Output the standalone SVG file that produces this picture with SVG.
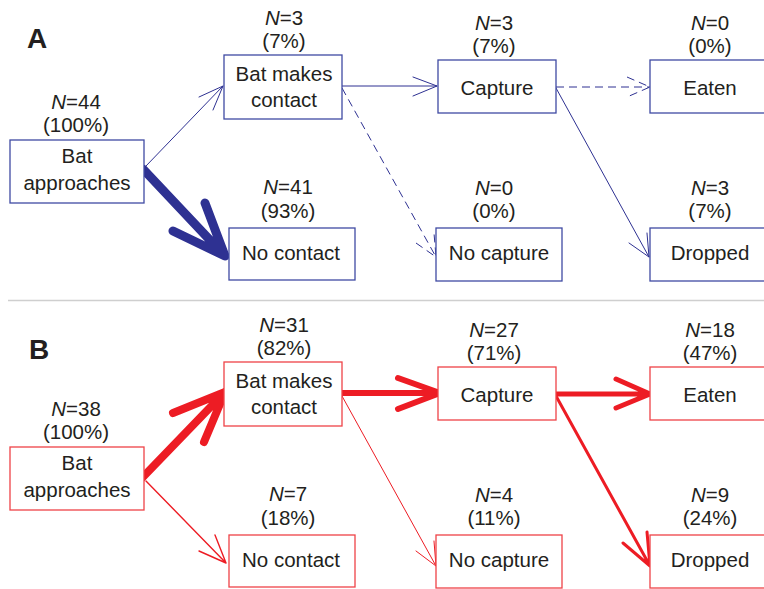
<svg xmlns="http://www.w3.org/2000/svg" width="764" height="589" viewBox="0 0 764 589">
<style>
text{font-family:"Liberation Sans",Arial,sans-serif;font-size:20.5px;fill:#231f20;text-anchor:middle}
.lbl{font-weight:bold;font-size:28px;text-anchor:start}
.n{font-style:italic}
.bb{fill:#fff;stroke:#3f4aa3;stroke-width:1.3}
.rb{fill:#fff;stroke:#ef4247;stroke-width:1.3}
.ba{fill:none;stroke:#2e3192;stroke-linecap:round;stroke-linejoin:round}
.ra{fill:none;stroke:#ed1c24;stroke-linecap:round;stroke-linejoin:round}
.d{stroke-dasharray:8 5;stroke-linecap:butt}
</style>
<rect width="764" height="589" fill="#fff"/>
<line x1="8" y1="300.5" x2="764" y2="300.5" stroke="#cfcfcf" stroke-width="1.5"/>

<text class="lbl" x="27" y="48">A</text>
<text class="lbl" x="29" y="359">B</text>

<g id="connectors-A">
<path class="ba" stroke-width="1" d="M146,166 L223,86 M199,97 L223,86 L213,110"/>
<path class="ba" stroke-width="9" d="M143,169 L225,256 M173,231 L225,256 L205,203"/>
<path class="ba" stroke-width="1" d="M342,86 L437,86 M413,77 L437,86 L413,96"/>
<path class="ba d" stroke-width="1" d="M342,88 L436,257 M416,243 L436,257 L434,233"/>
<path class="ba d" stroke-width="1" d="M556,87 L650,87 M627,77 L650,87 L627,97"/>
<path class="ba" stroke-width="1" d="M556,88 L649,257 M629,243 L649,257 L647,233"/>
</g>

<g id="connectors-B">
<path class="ra" stroke-width="8" d="M142,478 L225,392 M173,413 L225,392 L204,442"/>
<path class="ra" stroke-width="1.4" d="M146,481 L226,563 M199,551 L226,563 L215,535"/>
<path class="ra" stroke-width="6" d="M342,393 L440,393 M398,378 L440,393 L398,409"/>
<path class="ra" stroke-width="1" d="M342,396 L436,566 M416,551 L436,566 L434,541"/>
<path class="ra" stroke-width="5" d="M556,394 L650,394 M616,379 L650,394 L616,408"/>
<path class="ra" stroke-width="3" d="M556,396 L650,566 M623,543 L650,566 L647,532"/>
</g>

<g id="A-approaches">
<rect class="bb" x="10" y="140" width="134" height="63"/>
<text x="76" y="109"><tspan class="n">N</tspan>=44</text>
<text x="76" y="132">(100%)</text>
<text x="77" y="163">Bat</text>
<text x="77" y="190">approaches</text>
</g>
<g id="A-contact">
<rect class="bb" x="224" y="55" width="118" height="64"/>
<text x="284" y="25"><tspan class="n">N</tspan>=3</text>
<text x="284" y="48">(7%)</text>
<text x="284" y="81">Bat makes</text>
<text x="284" y="107">contact</text>
</g>
<g id="A-nocontact">
<rect class="bb" x="229" y="228" width="126" height="52"/>
<text x="288" y="194"><tspan class="n">N</tspan>=41</text>
<text x="288" y="218">(93%)</text>
<text x="291" y="260">No contact</text>
</g>
<g id="A-capture">
<rect class="bb" x="438" y="60" width="118" height="53"/>
<text x="494" y="30"><tspan class="n">N</tspan>=3</text>
<text x="494" y="53">(7%)</text>
<text x="497" y="95">Capture</text>
</g>
<g id="A-nocapture">
<rect class="bb" x="436" y="228" width="126" height="53"/>
<text x="494" y="195"><tspan class="n">N</tspan>=0</text>
<text x="494" y="218">(0%)</text>
<text x="499" y="260">No capture</text>
</g>
<g id="A-eaten">
<rect class="bb" x="650" y="60" width="120" height="53"/>
<text x="710" y="30"><tspan class="n">N</tspan>=0</text>
<text x="710" y="53">(0%)</text>
<text x="710" y="95">Eaten</text>
</g>
<g id="A-dropped">
<rect class="bb" x="650" y="228" width="120" height="53"/>
<text x="710" y="195"><tspan class="n">N</tspan>=3</text>
<text x="710" y="218">(7%)</text>
<text x="710" y="260">Dropped</text>
</g>

<g id="B-approaches">
<rect class="rb" x="10" y="447" width="134" height="63"/>
<text x="76" y="416"><tspan class="n">N</tspan>=38</text>
<text x="76" y="439">(100%)</text>
<text x="77" y="470">Bat</text>
<text x="77" y="497">approaches</text>
</g>
<g id="B-contact">
<rect class="rb" x="224" y="362" width="118" height="64"/>
<text x="284" y="332"><tspan class="n">N</tspan>=31</text>
<text x="284" y="355">(82%)</text>
<text x="284" y="388">Bat makes</text>
<text x="284" y="414">contact</text>
</g>
<g id="B-nocontact">
<rect class="rb" x="229" y="535" width="126" height="52"/>
<text x="288" y="501"><tspan class="n">N</tspan>=7</text>
<text x="288" y="525">(18%)</text>
<text x="291" y="567">No contact</text>
</g>
<g id="B-capture">
<rect class="rb" x="438" y="367" width="118" height="53"/>
<text x="494" y="337"><tspan class="n">N</tspan>=27</text>
<text x="494" y="360">(71%)</text>
<text x="497" y="402">Capture</text>
</g>
<g id="B-nocapture">
<rect class="rb" x="436" y="535" width="126" height="53"/>
<text x="494" y="502"><tspan class="n">N</tspan>=4</text>
<text x="494" y="525">(11%)</text>
<text x="499" y="567">No capture</text>
</g>
<g id="B-eaten">
<rect class="rb" x="650" y="367" width="120" height="53"/>
<text x="710" y="337"><tspan class="n">N</tspan>=18</text>
<text x="710" y="360">(47%)</text>
<text x="710" y="402">Eaten</text>
</g>
<g id="B-dropped">
<rect class="rb" x="650" y="535" width="120" height="53"/>
<text x="710" y="502"><tspan class="n">N</tspan>=9</text>
<text x="710" y="525">(24%)</text>
<text x="710" y="567">Dropped</text>
</g>
</svg>
